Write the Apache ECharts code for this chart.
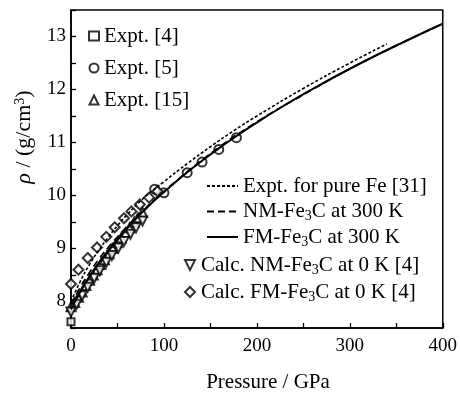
<!DOCTYPE html>
<html>
<head>
<meta charset="utf-8">
<script src="https://cdn.jsdelivr.net/npm/echarts@6/dist/echarts.min.js"></script>
<style>
  html, body { margin: 0; padding: 0; background: #fff; }
  #chart { width: 460px; height: 394px; }
</style>
</head>
<body>
<div id="chart"></div>
<script>
// Density of Fe3C (and pure Fe) versus pressure

// Expt. [4]
const expt4P = [0];
const expt4Rho = [7.62];

// Expt. [5]
const expt5P = [90, 100, 125, 141, 159, 178];
const expt5Rho = [10.12, 10.05, 10.43, 10.63, 10.87, 11.09];

// Expt. [15]
const expt15P = [0, 4, 8, 12, 16, 20, 24, 28, 32, 36, 41, 45, 50, 54, 59, 63, 68, 72, 77];
const expt15Rho = [7.9, 7.98, 8.08, 8.18, 8.3, 8.4, 8.5, 8.6, 8.7, 8.79, 8.9, 9.0, 9.11, 9.2, 9.3, 9.39, 9.5, 9.58, 9.68];

// Expt. for pure Fe [31]
const feP = [0, 10, 20, 30, 40, 50, 60, 80, 100, 125, 150, 175, 200, 250, 300, 340];
const feRho = [8.0, 8.38, 8.7, 8.97, 9.21, 9.43, 9.63, 9.98, 10.26, 10.6, 10.92, 11.22, 11.5, 12.02, 12.5, 12.86];

// NM-Fe3C at 300 K
const nm300P = [0, 10, 20, 30, 40, 50, 60, 80, 100, 150, 200, 250, 300, 350, 400];
const nm300Rho = [7.95, 8.27, 8.55, 8.8, 9.02, 9.22, 9.41, 9.76, 10.08, 10.79, 11.39, 11.9, 12.39, 12.83, 13.24];

// FM-Fe3C at 300 K
const fm300P = [0, 4.3, 12.2, 21, 30.8, 41.7, 53.6, 66.5, 80.6, 95.8, 129.5, 167.9, 211, 259, 312, 370.5, 400];
const fm300Rho = [7.85, 8.0, 8.25, 8.5, 8.75, 9.0, 9.25, 9.5, 9.75, 10.0, 10.5, 11.0, 11.5, 12.0, 12.5, 13.0, 13.24];

// Calc. NM-Fe3C at 0 K [4]
const nm0P = [0, 6, 12, 18, 25, 31, 38, 44, 51, 57, 64, 70, 77];
const nm0Rho = [7.8, 7.95, 8.11, 8.27, 8.44, 8.58, 8.74, 8.87, 9.01, 9.13, 9.27, 9.39, 9.52];

// Calc. FM-Fe3C at 0 K [4]
const fm0P = [0, 8, 18, 28, 38, 47, 57, 65, 74, 84, 93];
const fm0Rho = [8.33, 8.6, 8.82, 9.02, 9.22, 9.4, 9.57, 9.7, 9.83, 9.96, 10.08];

const pair = (xs, ys) => xs.map((x, i) => [x, ys[i]]);

const FONT = 'Liberation Serif';
const SYM_UP = 'path://M0,-1L1,1L-1,1Z';
const SYM_DOWN = 'path://M-1,-1L1,-1L0,1Z';
const SYM_DIAMOND = 'path://M0,-1L1,0L0,1L-1,0Z';

const markerStyle = { color: '#fff', borderColor: '#000', borderWidth: 2 };

function scatter(name, xs, ys, symbol, size) {
  return {
    name, type: 'scatter', data: pair(xs, ys), symbol, symbolSize: size,
    itemStyle: markerStyle, z: 2
  };
}
function curve(name, xs, ys, type, width) {
  return {
    name, type: 'line', data: pair(xs, ys), smooth: true, symbol: 'none',
    lineStyle: { color: '#000', width, type },
    itemStyle: { color: '#000' }, z: 3
  };
}

const richText = {
  sub: { fontFamily: FONT, fontSize: 14, lineHeight: 14, verticalAlign: 'bottom', color: '#000' }
};
const legendFormatter = n => n.replace('Fe3C', 'Fe{sub|3}C');
const legendText = { fontFamily: FONT, fontSize: 21, color: '#000', lineHeight: 24, rich: richText };

const chart = echarts.init(document.getElementById('chart'), null, { renderer: 'canvas' });
chart.setOption({
  animation: false,
  backgroundColor: '#fff',
  textStyle: { fontFamily: FONT },
  grid: { left: 71, right: 15, top: 10, bottom: 66, show: true, borderColor: '#000', borderWidth: 1.5 },
  xAxis: {
    type: 'value', min: 0, max: 400, interval: 50,
    axisLine: { lineStyle: { color: '#000', width: 1.6 } },
    axisTick: { inside: true, length: 5, lineStyle: { color: '#000', width: 1.3 } },
    splitLine: { show: false },
    axisLabel: {
      margin: 9, fontFamily: FONT, fontSize: 19, color: '#000',
      formatter: v => (v % 100 === 0 ? String(v) : '')
    }
  },
  yAxis: {
    type: 'value', min: 7.5, max: 13.5, interval: 0.5,
    axisLine: { lineStyle: { color: '#000', width: 1.6 } },
    axisTick: { inside: true, length: 5, lineStyle: { color: '#000', width: 1.3 } },
    splitLine: { show: false },
    axisLabel: {
      margin: 5, fontFamily: FONT, fontSize: 19, color: '#000',
      formatter: v => (Math.abs(v - Math.round(v)) < 1e-6 ? String(Math.round(v)) : '')
    }
  },
  legend: [
    {
      data: ['Expt. [4]', 'Expt. [5]', 'Expt. [15]'],
      orient: 'vertical', left: 88, top: 24, padding: 0,
      itemWidth: 10, itemHeight: 9, itemGap: 8,
      textStyle: legendText, formatter: legendFormatter, selectedMode: false
    },
    {
      data: ['Expt. for pure Fe [31]', 'NM-Fe3C at 300 K', 'FM-Fe3C at 300 K'],
      orient: 'vertical', left: 206, top: 174, padding: 0,
      itemWidth: 31, itemHeight: 12, itemGap: 1.5,
      itemStyle: { opacity: 0 },
      textStyle: legendText, formatter: legendFormatter, selectedMode: false
    },
    {
      data: ['Calc. NM-Fe3C at 0 K [4]', 'Calc. FM-Fe3C at 0 K [4]'],
      orient: 'vertical', left: 184, top: 253, padding: 0,
      itemWidth: 12, itemHeight: 10, itemGap: 3,
      textStyle: legendText, formatter: legendFormatter, selectedMode: false
    }
  ],
  graphic: [
    {
      type: 'text', x: 24, y: 137, rotation: Math.PI / 2,
      style: {
        text: '{i|ρ} / (g/cm{sup|3})',
        fontFamily: FONT, fontSize: 22, fill: '#000',
        align: 'center', verticalAlign: 'middle',
        rich: {
          i: { fontFamily: FONT, fontSize: 22, fontStyle: 'italic', fill: '#000' },
          sup: { fontFamily: FONT, fontSize: 14, lineHeight: 14, verticalAlign: 'top', fill: '#000' }
        }
      }
    },
    {
      type: 'text', x: 268, y: 382,
      style: {
        text: 'Pressure / GPa', fontFamily: FONT, fontSize: 21, fill: '#000',
        align: 'center', verticalAlign: 'middle'
      }
    }
  ],
  series: [
    scatter('Expt. [4]', expt4P, expt4Rho, 'rect', 7),
    scatter('Expt. [5]', expt5P, expt5Rho, 'circle', 9),
    scatter('Expt. [15]', expt15P, expt15Rho, SYM_UP, 9),
    scatter('Calc. NM-Fe3C at 0 K [4]', nm0P, nm0Rho, SYM_DOWN, 9),
    scatter('Calc. FM-Fe3C at 0 K [4]', fm0P, fm0Rho, SYM_DIAMOND, 10),
    curve('Expt. for pure Fe [31]', feP, feRho, [3, 2], 1.6),
    curve('NM-Fe3C at 300 K', nm300P, nm300Rho, [7, 4], 1.6),
    curve('FM-Fe3C at 300 K', fm300P, fm300Rho, 'solid', 2)
  ]
});
</script>
</body>
</html>
